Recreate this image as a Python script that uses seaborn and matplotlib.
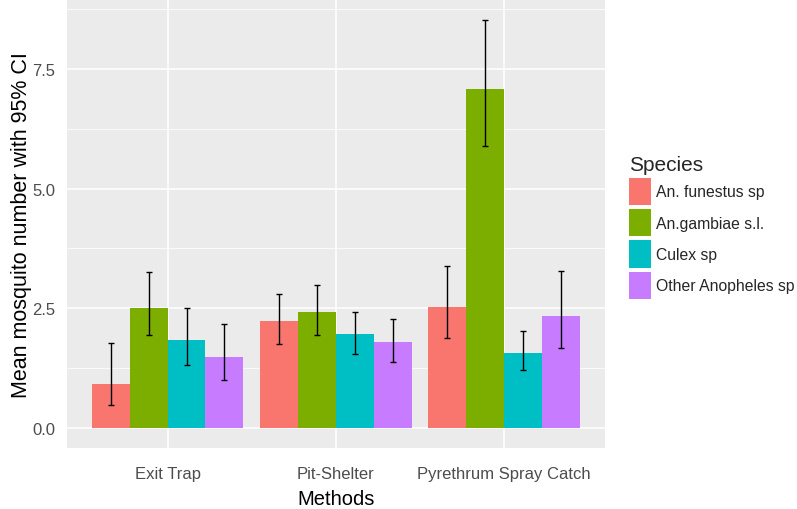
import matplotlib
matplotlib.use("Agg")
import matplotlib.pyplot as plt
import seaborn as sns
import pandas as pd
import numpy as np
from matplotlib.ticker import MultipleLocator

methods = ["Exit Trap", "Pit-Shelter", "Pyrethrum Spray Catch"]
species = ["An. funestus sp", "An.gambiae s.l.", "Culex sp", "Other Anopheles sp"]
# mean values per method per species
means_exit = [0.92, 2.50, 1.84, 1.48]
means_pit = [2.23, 2.42, 1.95, 1.79]
means_psc = [2.53, 7.09, 1.56, 2.34]
lower_exit = [0.47, 1.93, 1.32, 1.00]
lower_pit = [1.74, 1.93, 1.54, 1.38]
lower_psc = [1.88, 5.89, 1.20, 1.66]
upper_exit = [1.77, 3.25, 2.50, 2.16]
upper_pit = [2.80, 2.98, 2.41, 2.28]
upper_psc = [3.39, 8.52, 2.03, 3.28]
palette = ["#F8766D", "#7CAE00", "#00BFC4", "#C77CFF"]
ytick_vals = [0, 2.5, 5.0, 7.5]
ytick_labels = ["0.0", "2.5", "5.0", "7.5"]

rows = []
for m, mv, lv, uv in zip(methods, [means_exit, means_pit, means_psc],
                         [lower_exit, lower_pit, lower_psc],
                         [upper_exit, upper_pit, upper_psc]):
    for s, v, lo, hi in zip(species, mv, lv, uv):
        rows.append({"Methods": m, "Species": s, "mean": v, "lo": lo, "hi": hi})
df = pd.DataFrame(rows)

sns.set_theme(style="darkgrid")
plt.rcParams['font.family'] = ['Liberation Sans', 'DejaVu Sans']

fig = plt.figure(figsize=(7.97, 5.10), dpi=100)
ax = fig.add_axes([66.7/797, 61/510, (605-66.7)/797, 448/510])
ax.set_facecolor("#EBEBEB")

sns.barplot(data=df, x="Methods", y="mean", hue="Species", order=methods,
            hue_order=species, palette=palette, width=0.9, gap=0,
            errorbar=None, saturation=1, ax=ax, edgecolor="none", linewidth=0)

# error bars at bar centres
for i, s in enumerate(species):
    cont = ax.containers[i]
    sub = df[df["Species"] == s].set_index("Methods").loc[methods]
    xs = [p.get_x() + p.get_width() / 2 for p in cont.patches]
    ys = sub["mean"].values
    yerr = np.vstack([ys - sub["lo"].values, sub["hi"].values - ys])
    ax.errorbar(xs, ys, yerr=yerr, fmt="none", ecolor="black", elinewidth=1.0,
                capsize=2.4, capthick=1.0, zorder=5)

ax.set_xlim(-0.6, 2.6)
ax.set_ylim(-0.426, 8.946)
ax.yaxis.set_minor_locator(MultipleLocator(1.25))
ax.set_yticks(ytick_vals)
ax.set_yticklabels(ytick_labels)
ax.grid(which="major", color="white", linewidth=1.1)
ax.grid(which="minor", axis="y", color="white", linewidth=0.55)
ax.set_axisbelow(True)
for sp in ax.spines.values():
    sp.set_visible(False)

ax.tick_params(axis="x", which="major", length=4, width=1, color="#333333",
               labelcolor="#4D4D4D", labelsize=12, pad=9)
ax.tick_params(axis="y", which="major", length=4, width=1, color="#333333",
               labelcolor="#4D4D4D", labelsize=12, pad=4)
ax.tick_params(axis="both", which="minor", length=0)

ax.set_xlabel("Methods", fontsize=14.5, color="black", labelpad=6)
ax.set_ylabel("Mean mosquito number with 95% CI", fontsize=15.5, color="black", labelpad=0)

ax.get_legend().remove()
handles = [plt.Rectangle((0, 0), 1, 1, facecolor=c, edgecolor="none") for c in palette]
leg = fig.legend(handles, species, title="Species", loc="upper left",
                 bbox_to_anchor=(629/797, 1 - 156/510), frameon=False,
                 fontsize=11.3, title_fontsize=15, handlelength=1.4,
                 handleheight=2.3, labelspacing=0.25, handletextpad=0.3,
                 borderaxespad=0, borderpad=0)
leg._legend_box.align = "left"

fig.savefig("out.png", dpi=100)
